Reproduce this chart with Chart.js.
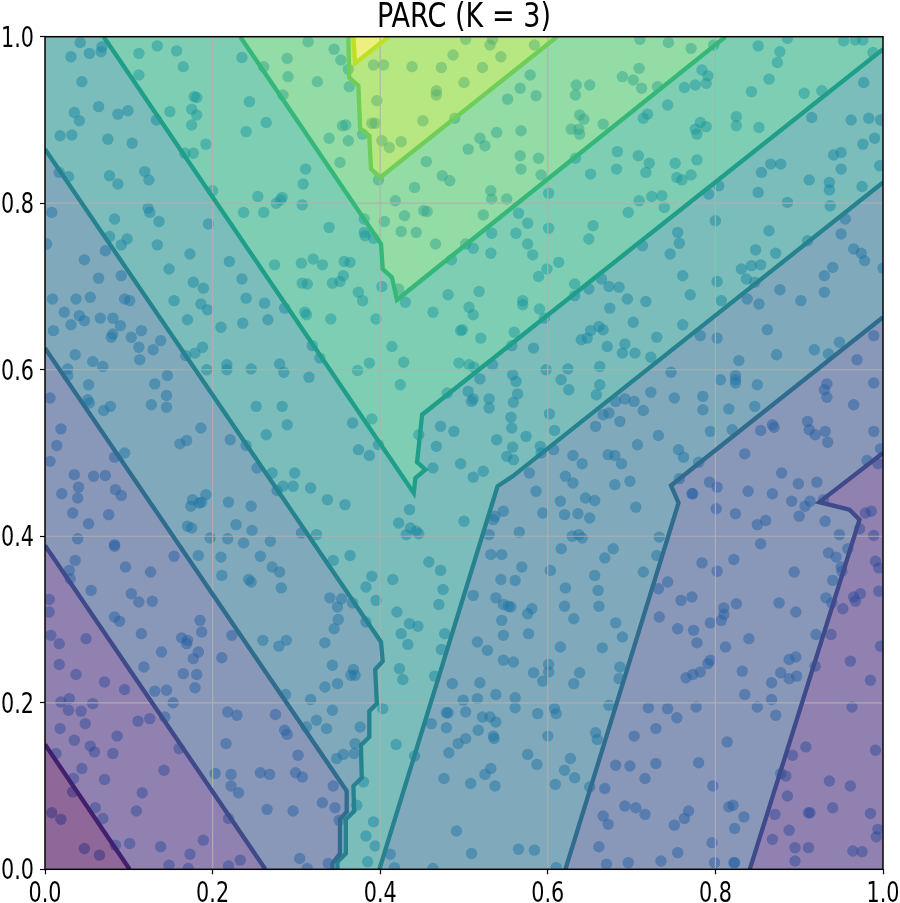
<!DOCTYPE html>
<html>
<head>
<meta charset="utf-8">
<title>PARC (K = 3)</title>
<script src="https://cdn.jsdelivr.net/npm/chart.js@4"></script>
<style>
    html, body { margin: 0; padding: 0; background: #fff; }
    #wrap { position: relative; width: 900px; height: 903px; }
</style>
</head>
<body>
<div id="wrap"><canvas id="parcChart" width="900" height="903"></canvas></div>
<script>
// Title and tick values
var chartTitle = 'PARC (K = 3)';
var tickValues = [0, 0.2, 0.4, 0.6, 0.8, 1];

// Contour lines
var level0 = [[0,.15],[.101,0]];
var level1Left = [[0,.389],[.263,0]];
var level1Right = [[.841,0],[.972,.42],[.96,.432],[.924,.441],[1,.5]];
var level2Left = [[0,.626],[.36,.094],[.36,.069],[.352,.06],[.352,.019],[.343,.007],[.343,0]];
var level2Right = [[.621,0],[.756,.44],[.747,.461],[1,.663]];
var level3Left = [[0,.865],[.401,.273],[.403,.25],[.394,.24],[.396,.199],[.387,.19],[.387,.159],[.377,.149],[.378,.11],[.368,.1],[.369,.07],[.359,.06],[.359,.019],[.349,.009],[.349,0]];
var level3Right = [[.399,0],[.54,.46],[.558,.472],[1,.825]];
var level4 = [[.07,1],[.44,.452],[.442,.47],[.454,.48],[.444,.489],[.45,.546],[1,.985]];
var level5 = [[.233,1],[.401,.751],[.403,.721],[.414,.711],[.42,.684],[.812,1]];
var level6 = [[.362,1],[.363,.951],[.374,.941],[.376,.89],[.387,.881],[.389,.841],[.4,.831],[.611,1]];
var level7 = [[.368,1],[.37,.968],[.41,1]];

// Sample points, by part of the plot
var pointsTopLeft = [[.042,.993],[.031,.976],[.053,.98],[.067,.982],[.068,.988],[.044,.946],[.112,.98],[.134,.989],[.157,.983],[.165,.964],[.112,.954],[.064,.916],[.035,.909],[.041,.899],[.087,.907],[.099,.911],[.133,.9],[.149,.91],[.175,.913],[.178,.928],[.181,.927],[.181,.906],[.175,.894],[.018,.881],[.032,.882],[.075,.877],[.104,.872],[.167,.86],[.177,.86],[.192,.871],[.017,.837],[.028,.832],[.077,.833],[.087,.823],[.119,.838],[.124,.828],[.2,.815],[.008,.789],[.123,.794],[.125,.789],[.083,.781],[.136,.778],[.195,.775],[.077,.76],[.098,.757],[.091,.75],[.002,.751],[.134,.75],[.072,.743],[.047,.732],[.173,.739],[.22,.73],[.148,.721],[.064,.71],[.091,.713],[.235,.709],[.274,.726],[.306,.728],[.32,.733],[.177,.705],[.189,.698],[.009,.685],[.037,.685],[.054,.687],[.095,.685],[.101,.683],[.154,.683],[.186,.679],[.24,.686],[.262,.68],[.286,.674],[.235,.975],[.261,.964],[.289,.974],[.29,.952],[.314,.994],[.325,.946],[.284,.93],[.244,.922],[.264,.897],[.24,.886],[.311,.841],[.308,.823],[.254,.808],[.283,.807],[.276,.8],[.281,.804],[.307,.798],[.237,.789],[.261,.789],[.307,.704],[.313,.703]];
var pointsTopMid = [[.345,.985],[.353,.972],[.362,.961],[.363,.94],[.392,.966],[.404,.966],[.438,.964],[.473,.963],[.522,.963],[.487,.978],[.502,.997],[.531,.99],[.534,.997],[.544,.976],[.584,.99],[.5,.945],[.467,.935],[.467,.93],[.396,.923],[.579,.954],[.567,.938],[.552,.925],[.586,.929],[.634,.942],[.65,.942],[.633,.93],[.638,.906],[.643,.901],[.628,.889],[.637,.889],[.638,.883],[.666,.895],[.451,.899],[.489,.902],[.39,.896],[.394,.896],[.355,.893],[.359,.894],[.339,.878],[.362,.875],[.379,.883],[.402,.875],[.411,.867],[.425,.874],[.519,.878],[.539,.885],[.568,.887],[.525,.869],[.505,.865],[.567,.857],[.589,.854],[.568,.841],[.592,.834],[.633,.854],[.651,.835],[.352,.849],[.455,.85],[.474,.833],[.483,.827],[.398,.828],[.441,.819],[.532,.815],[.533,.805],[.551,.805],[.601,.812],[.418,.803],[.565,.788],[.452,.791],[.456,.79],[.429,.785],[.523,.786],[.381,.781],[.405,.778],[.339,.771],[.576,.776],[.601,.77],[.654,.773],[.649,.757],[.381,.765],[.382,.761],[.392,.758],[.425,.766],[.443,.765],[.533,.764],[.562,.764],[.466,.751],[.502,.751],[.511,.746],[.532,.74],[.576,.751],[.582,.738],[.613,.729],[.599,.721],[.589,.712],[.485,.732],[.331,.726],[.357,.73],[.364,.729],[.356,.713],[.352,.706],[.343,.704],[.402,.7],[.422,.697],[.374,.693],[.379,.683],[.481,.69],[.518,.694],[.43,.681],[.57,.683],[.57,.678],[.506,.675],[.59,.673],[.632,.703],[.664,.709],[.649,.697],[.673,.7],[.632,.689],[.674,.674]];
var pointsTopRight = [[.71,.997],[.744,.993],[.771,.986],[.798,.99],[.851,.989],[.886,.998],[.953,.995],[.967,.996],[.976,.996],[.877,.982],[.988,.981],[.874,.969],[.709,.962],[.689,.952],[.702,.948],[.712,.938],[.731,.94],[.784,.96],[.791,.953],[.789,.944],[.776,.942],[.763,.939],[.864,.949],[.843,.934],[.906,.932],[.927,.935],[.977,.945],[.743,.918],[.719,.907],[.714,.902],[.825,.904],[.825,.893],[.852,.891],[.915,.903],[.962,.9],[.983,.902],[.997,.9],[.782,.897],[.789,.892],[.776,.889],[.778,.883],[.99,.878],[.976,.871],[.683,.862],[.708,.857],[.721,.848],[.752,.848],[.778,.852],[.682,.841],[.717,.837],[.771,.834],[.754,.831],[.76,.828],[.866,.847],[.878,.847],[.855,.837],[.941,.858],[.95,.861],[.95,.841],[.996,.845],[.912,.828],[.936,.825],[.936,.816],[.975,.82],[.804,.821],[.792,.811],[.851,.813],[.736,.809],[.724,.808],[.709,.803],[.696,.789],[.739,.795],[.886,.801],[.937,.797],[.955,.781],[.8,.779],[.864,.767],[.755,.765],[.95,.763],[.757,.752],[.713,.749],[.746,.739],[.91,.755],[.848,.744],[.872,.74],[.965,.745],[.974,.74],[.978,.731],[.843,.725],[.854,.726],[.831,.721],[.94,.723],[.93,.713],[1,.722],[.761,.713],[.837,.709],[.847,.705],[.802,.706],[.685,.699],[.695,.685],[.77,.69],[.717,.682],[.877,.696],[.93,.693],[.838,.685],[.902,.683],[.852,.679],[.807,.683]];
var pointsMidLeft = [[.023,.669],[.041,.665],[.047,.659],[.066,.662],[.081,.662],[.031,.654],[.09,.653],[.01,.647],[.115,.647],[.081,.643],[.079,.639],[.103,.639],[.17,.66],[.194,.672],[.21,.651],[.236,.656],[.266,.66],[.31,.669],[.312,.666],[.112,.627],[.129,.624],[.138,.635],[.188,.627],[.179,.62],[.168,.617],[.036,.618],[.113,.612],[.057,.61],[.027,.601],[.069,.604],[.027,.593],[.217,.606],[.217,.6],[.193,.6],[.246,.601],[.28,.607],[.285,.597],[.315,.591],[.319,.629],[.328,.614],[.146,.593],[.131,.583],[.052,.582],[.145,.569],[.051,.564],[.053,.56],[.006,.566],[.127,.558],[.145,.555],[.078,.556],[.07,.551],[.252,.556],[.283,.556],[.289,.534],[.186,.53],[.019,.529],[.264,.522],[.221,.516],[.169,.515],[.161,.511],[.014,.509],[.24,.509],[.095,.5],[.083,.495],[.006,.49],[.253,.482],[.271,.476],[.298,.476],[.035,.474],[.058,.472],[.072,.473],[.04,.459],[.084,.456],[.091,.449],[.02,.451],[.039,.446],[.277,.455],[.284,.46],[.296,.46],[.317,.458],[.192,.45],[.176,.444],[.187,.441],[.184,.44],[.174,.436],[.219,.441],[.246,.436],[.033,.428],[.076,.426],[.052,.415],[.228,.414],[.247,.407],[.17,.412],[.175,.41],[.306,.404],[.324,.402],[.039,.397],[.197,.398],[.218,.397],[.237,.392],[.269,.394],[.083,.39],[.083,.388],[.036,.371],[.154,.376],[.183,.377],[.21,.375],[.257,.376],[.029,.359],[.03,.349],[.096,.363],[.126,.357],[.271,.363],[.28,.357],[.211,.353],[.243,.348],[.246,.345],[.282,.338],[.055,.335],[.103,.331],[.112,.321],[.128,.322],[.005,.324]];
var pointsMidCentre = [[.341,.661],[.395,.661],[.463,.669],[.511,.666],[.596,.662],[.496,.647],[.498,.648],[.52,.638],[.56,.645],[.414,.628],[.557,.629],[.583,.626],[.387,.608],[.373,.599],[.428,.609],[.494,.608],[.506,.606],[.512,.603],[.534,.606],[.651,.647],[.661,.652],[.666,.648],[.64,.636],[.647,.638],[.671,.628],[.598,.6],[.624,.601],[.662,.604],[.519,.589],[.558,.594],[.562,.586],[.616,.588],[.625,.576],[.662,.582],[.658,.57],[.424,.582],[.48,.572],[.505,.574],[.511,.565],[.509,.562],[.53,.565],[.53,.554],[.564,.571],[.559,.561],[.556,.543],[.602,.547],[.666,.546],[.673,.548],[.657,.532],[.39,.541],[.367,.536],[.472,.532],[.488,.526],[.557,.53],[.608,.527],[.446,.522],[.539,.516],[.574,.52],[.467,.508],[.558,.507],[.591,.508],[.592,.5],[.607,.504],[.374,.504],[.387,.497],[.398,.51],[.551,.496],[.559,.492],[.63,.497],[.641,.487],[.672,.498],[.463,.482],[.496,.487],[.523,.478],[.511,.471],[.578,.476],[.621,.472],[.63,.464],[.586,.454],[.615,.442],[.645,.446],[.656,.443],[.337,.444],[.358,.438],[.435,.432],[.422,.416],[.436,.41],[.443,.406],[.446,.403],[.431,.402],[.5,.418],[.547,.43],[.537,.424],[.535,.42],[.594,.428],[.62,.426],[.636,.427],[.65,.422],[.566,.405],[.53,.402],[.629,.4],[.637,.402],[.641,.398],[.616,.385],[.668,.374],[.364,.377],[.344,.371],[.532,.378],[.545,.378],[.458,.369],[.472,.359],[.569,.363],[.603,.359],[.39,.352],[.415,.348],[.383,.339],[.544,.348],[.561,.347],[.656,.353],[.475,.336],[.621,.338],[.66,.335],[.34,.326],[.354,.325],[.367,.32],[.395,.323],[.349,.315],[.511,.329],[.538,.326],[.547,.318],[.553,.316],[.556,.315],[.47,.318],[.581,.313],[.62,.316],[.661,.316]];
var pointsMidRight = [[.702,.657],[.761,.654],[.73,.639],[.782,.641],[.802,.638],[.862,.648],[.989,.641],[.948,.633],[.692,.631],[.689,.62],[.704,.62],[.723,.615],[.918,.624],[.935,.619],[.873,.618],[.969,.612],[.828,.611],[.747,.597],[.806,.588],[.824,.593],[.824,.588],[.824,.584],[.85,.582],[.933,.583],[.93,.576],[.933,.567],[.989,.584],[.723,.573],[.751,.566],[.785,.568],[.681,.562],[.692,.565],[.703,.562],[.785,.552],[.816,.553],[.847,.556],[.965,.558],[.714,.551],[.686,.538],[.91,.538],[.868,.534],[.87,.531],[.854,.527],[.912,.528],[.919,.522],[.931,.526],[.934,.513],[.989,.526],[.794,.526],[.82,.528],[.732,.521],[.707,.51],[.756,.504],[.762,.495],[.835,.499],[.997,.505],[.981,.491],[.994,.487],[.68,.497],[.688,.487],[.78,.489],[.879,.476],[.698,.466],[.68,.462],[.757,.469],[.793,.465],[.802,.459],[.899,.463],[.921,.465],[.772,.451],[.773,.451],[.839,.454],[.868,.451],[.891,.442],[.913,.442],[.907,.436],[.929,.444],[.705,.435],[.801,.433],[.824,.427],[.9,.424],[.986,.43],[.979,.428],[.85,.414],[.86,.419],[.931,.418],[.972,.409],[.733,.399],[.948,.402],[.989,.401],[.854,.391],[.678,.385],[.935,.38],[.944,.375],[.958,.385],[.73,.377],[.784,.368],[.822,.372],[.991,.37],[.995,.362],[.95,.363],[.951,.358],[.714,.357],[.802,.358],[.894,.357],[.94,.347],[.743,.345],[.732,.337],[.995,.334],[.772,.327],[.759,.323],[.932,.326],[.973,.331],[.965,.327],[.967,.322],[.939,.32],[.825,.319],[.876,.32],[.81,.314],[.896,.309],[.952,.313]];
var pointsBottomLeft = [[.005,.309],[.083,.303],[.089,.298],[.185,.299],[.187,.285],[.007,.281],[.017,.271],[.049,.277],[.115,.283],[.163,.278],[.169,.271],[.17,.275],[.223,.281],[.26,.275],[.279,.268],[.288,.275],[.139,.261],[.183,.261],[.177,.253],[.211,.254],[.017,.246],[.118,.243],[.037,.234],[.165,.235],[.181,.234],[.071,.225],[.095,.216],[.131,.214],[.145,.215],[.179,.218],[.029,.205],[.019,.201],[.057,.199],[.153,.2],[.028,.191],[.043,.19],[.287,.21],[.317,.204],[.218,.189],[.229,.185],[.275,.186],[.324,.179],[.111,.178],[.125,.181],[.143,.183],[.048,.175],[.018,.169],[.312,.171],[.286,.167],[.289,.162],[.086,.16],[.035,.155],[.054,.148],[.059,.141],[.216,.151],[.16,.145],[.013,.139],[.081,.139],[.302,.137],[.044,.121],[.142,.119],[.034,.109],[.071,.108],[.203,.115],[.222,.114],[.257,.116],[.268,.114],[.299,.116],[.307,.111],[.222,.1],[.231,.092],[.116,.092],[.033,.093],[.265,.072],[.296,.07],[.06,.074],[.109,.07],[.008,.068],[.019,.06],[.069,.061],[.219,.061],[.189,.035],[.101,.031],[.084,.029],[.138,.027],[.047,.025],[.065,.017],[.173,.018],[.233,.011],[.304,.013],[.148,.005],[.171,.001],[.219,.004],[.313,.001]];
var pointsBottomCentre = [[.35,.3],[.345,.289],[.383,.297],[.42,.309],[.435,.295],[.445,.292],[.425,.283],[.477,.283],[.433,.27],[.334,.272],[.473,.264],[.516,.273],[.528,.263],[.547,.281],[.545,.299],[.577,.283],[.576,.307],[.615,.267],[.631,.301],[.665,.266],[.547,.251],[.559,.249],[.601,.246],[.601,.237],[.583,.236],[.638,.236],[.594,.226],[.631,.223],[.343,.245],[.368,.24],[.365,.233],[.37,.233],[.334,.219],[.349,.223],[.423,.241],[.427,.228],[.465,.232],[.486,.223],[.519,.224],[.538,.21],[.499,.203],[.516,.205],[.561,.206],[.561,.194],[.608,.193],[.61,.187],[.403,.193],[.343,.191],[.502,.189],[.481,.188],[.479,.188],[.522,.183],[.531,.183],[.538,.177],[.588,.187],[.461,.175],[.479,.17],[.517,.167],[.336,.169],[.376,.171],[.673,.197],[.535,.16],[.536,.157],[.502,.157],[.493,.151],[.6,.16],[.657,.164],[.659,.156],[.37,.151],[.419,.15],[.482,.14],[.369,.139],[.356,.138],[.348,.133],[.441,.136],[.576,.138],[.587,.126],[.627,.133],[.62,.119],[.632,.11],[.532,.121],[.525,.114],[.476,.109],[.508,.103],[.537,.1],[.609,.102],[.65,.099],[.38,.105],[.344,.1],[.668,.097],[.331,.08],[.372,.077],[.346,.074],[.351,.059],[.392,.057],[.491,.046],[.666,.064],[.672,.054],[.383,.04],[.394,.028],[.661,.027],[.565,.024],[.584,.023],[.509,.019],[.412,.018],[.385,.009],[.338,.007],[.67,.006],[.417,.002],[.463,.001],[.61,.002]];
var pointsBottomRight = [[.733,.303],[.755,.289],[.774,.287],[.794,.296],[.807,.299],[.81,.306],[.681,.296],[.689,.279],[.778,.272],[.812,.267],[.84,.277],[.92,.282],[.938,.282],[.997,.268],[.794,.251],[.791,.247],[.888,.252],[.896,.255],[.961,.25],[.686,.243],[.685,.229],[.832,.238],[.782,.237],[.773,.234],[.765,.23],[.878,.236],[.867,.224],[.888,.229],[.897,.232],[.919,.244],[.985,.227],[.835,.21],[.867,.204],[.72,.194],[.743,.193],[.777,.195],[.85,.195],[.754,.182],[.872,.185],[.963,.195],[.729,.169],[.703,.16],[.814,.153],[.908,.147],[.991,.143],[.892,.137],[.681,.125],[.698,.124],[.729,.127],[.78,.128],[.878,.115],[.884,.112],[.716,.109],[.936,.106],[.961,.1],[.797,.1],[.886,.088],[.692,.076],[.705,.074],[.716,.066],[.768,.07],[.763,.061],[.751,.053],[.816,.075],[.821,.077],[.834,.063],[.871,.066],[.911,.068],[.913,.068],[.94,.074],[.985,.067],[.823,.049],[.888,.047],[.994,.048],[.992,.039],[.868,.036],[.796,.032],[.755,.02],[.895,.026],[.911,.026],[.964,.022],[.975,.021],[.895,.01],[.696,.008],[.735,.01],[.799,.008],[.822,.008],[.823,.008]];

// Filled bands, each one closed between two contour lines
var corner00 = [0, 0];
var corner10 = [1, 0];
var corner01 = [0, 1];
var corner11 = [1, 1];
var bandColors = [
    'rgba(68, 1, 84, 0.6)', 'rgba(71, 45, 123, 0.6)', 'rgba(59, 82, 139, 0.6)',
    'rgba(44, 114, 142, 0.6)', 'rgba(33, 145, 140, 0.6)', 'rgba(40, 174, 128, 0.6)',
    'rgba(75, 197, 105, 0.6)', 'rgba(135, 215, 45, 0.6)', 'rgba(225, 228, 40, 0.6)'
];
var lineColors = ['#41206e', '#3e4a89', '#2f6c8e', '#26828e', '#1f9e89', '#35b779', '#6ece58', '#bddf26'];

function rev(arr) {
    return arr.slice().reverse();
}

function toPoints(arr) {
    return arr.map(function(p) { return {x: p[0], y: p[1]}; });
}

var bands = [
    {level: 0, shape: [corner00].concat(level0)},
    {level: 1, shape: level0.concat(rev(level1Left))},
    {level: 1, shape: level1Right.concat([corner10])},
    {level: 2, shape: level1Left.concat(rev(level2Left))},
    {level: 2, shape: level2Right.concat(rev(level1Right))},
    {level: 3, shape: level2Left.concat(rev(level3Left))},
    {level: 3, shape: level3Right.concat(rev(level2Right))},
    {level: 4, shape: level3Left.concat(level3Right, rev(level4), [corner01])},
    {level: 5, shape: level4.concat([corner11], rev(level5))},
    {level: 6, shape: level5.concat(rev(level6))},
    {level: 7, shape: level6.concat(rev(level7))},
    {level: 8, shape: level7}
];

var lines = [
    {level: 0, data: level0}, {level: 1, data: level1Left}, {level: 1, data: level1Right},
    {level: 2, data: level2Left}, {level: 2, data: level2Right}, {level: 3, data: level3Left},
    {level: 3, data: level3Right}, {level: 4, data: level4}, {level: 5, data: level5},
    {level: 6, data: level6}, {level: 7, data: level7}
];

var allPoints = [].concat(pointsTopLeft, pointsTopMid, pointsTopRight, pointsMidLeft, pointsMidCentre,
    pointsMidRight, pointsBottomLeft, pointsBottomCentre, pointsBottomRight);

// Larger order is painted first: points, then the fills, then grid, then lines
var datasets = [{
    data: toPoints(allPoints),
    showLine: false,
    pointRadius: 5.7,
    pointBorderWidth: 0,
    pointBackgroundColor: 'rgba(15, 120, 200, 0.5)',
    order: 4
}];

lines.forEach(function(l) {
    datasets.push({
        data: toPoints(l.data),
        showLine: true,
        borderColor: lineColors[l.level],
        borderWidth: 4.3,
        borderJoinStyle: 'miter',
        pointRadius: 0,
        tension: 0,
        fill: false,
        order: 1
    });
});

// Grid goes over the fills, so it is drawn as thin series
tickValues.forEach(function(t) {
    [[[t, 0], [t, 1]], [[0, t], [1, t]]].forEach(function(seg) {
        datasets.push({
            data: toPoints(seg),
            showLine: true,
            borderColor: 'rgba(176, 176, 176, 0.9)',
            borderWidth: 1.2,
            pointRadius: 0,
            fill: false,
            order: 2
        });
    });
});

bands.forEach(function(b) {
    datasets.push({
        data: toPoints(b.shape),
        showLine: true,
        borderWidth: 0,
        borderColor: 'transparent',
        backgroundColor: bandColors[b.level],
        pointRadius: 0,
        tension: 0,
        fill: 'shape',
        order: 3
    });
});

// Squeezed text, the reference uses a narrow face that is not installed
function narrowText(ctx, text, x, y, sx, size, align) {
    ctx.save();
    ctx.translate(x, y);
    ctx.scale(sx, 1);
    ctx.font = size + 'px "DejaVu Sans"';
    ctx.fillStyle = '#000';
    ctx.textAlign = align;
    ctx.textBaseline = 'alphabetic';
    ctx.fillText(text, 0, 0);
    ctx.restore();
}

// Box round the plot, plus title and tick labels
var frame = {
    id: 'frame',
    afterDatasetsDraw: function(chart) {
        var a = chart.chartArea;
        var ctx = chart.ctx;
        ctx.save();
        ctx.strokeStyle = '#000';
        ctx.lineWidth = 1.5;
        ctx.strokeRect(a.left, a.top, a.right - a.left, a.bottom - a.top);
        ctx.restore();

        narrowText(ctx, chartTitle, (a.left + a.right) / 2, 27, 0.82, 33, 'center');
        tickValues.forEach(function(v) {
            var label = v.toFixed(1);
            narrowText(ctx, label, chart.scales.x.getPixelForValue(v), 902, 0.74, 28, 'center');
            narrowText(ctx, label, 34, chart.scales.y.getPixelForValue(v) + 10, 0.74, 28, 'right');
        });
    }
};

function axis(height, width) {
    return {
        type: 'linear',
        min: 0,
        max: 1,
        afterBuildTicks: function(scale) {
            scale.ticks = tickValues.map(function(v) { return {value: v}; });
        },
        afterFit: function(scale) {
            if (height) scale.height = height;
            if (width) scale.width = width;
            scale.paddingLeft = 0;
            scale.paddingRight = 0;
            scale.paddingTop = 0;
            scale.paddingBottom = 0;
        },
        grid: {drawOnChartArea: false, tickColor: '#000', tickLength: 5, tickWidth: 1.2},
        border: {display: false},
        ticks: {display: false}
    };
}

new Chart(document.getElementById('parcChart'), {
    type: 'scatter',
    data: {datasets: datasets},
    plugins: [frame],
    options: {
        responsive: false,
        animation: false,
        layout: {padding: {left: 0, right: 17, top: 36.7, bottom: 0}},
        plugins: {
            legend: {display: false},
            tooltip: {enabled: false}
        },
        scales: {
            x: axis(33.7, 0),
            y: axis(0, 45)
        }
    }
});
</script>
</body>
</html>
